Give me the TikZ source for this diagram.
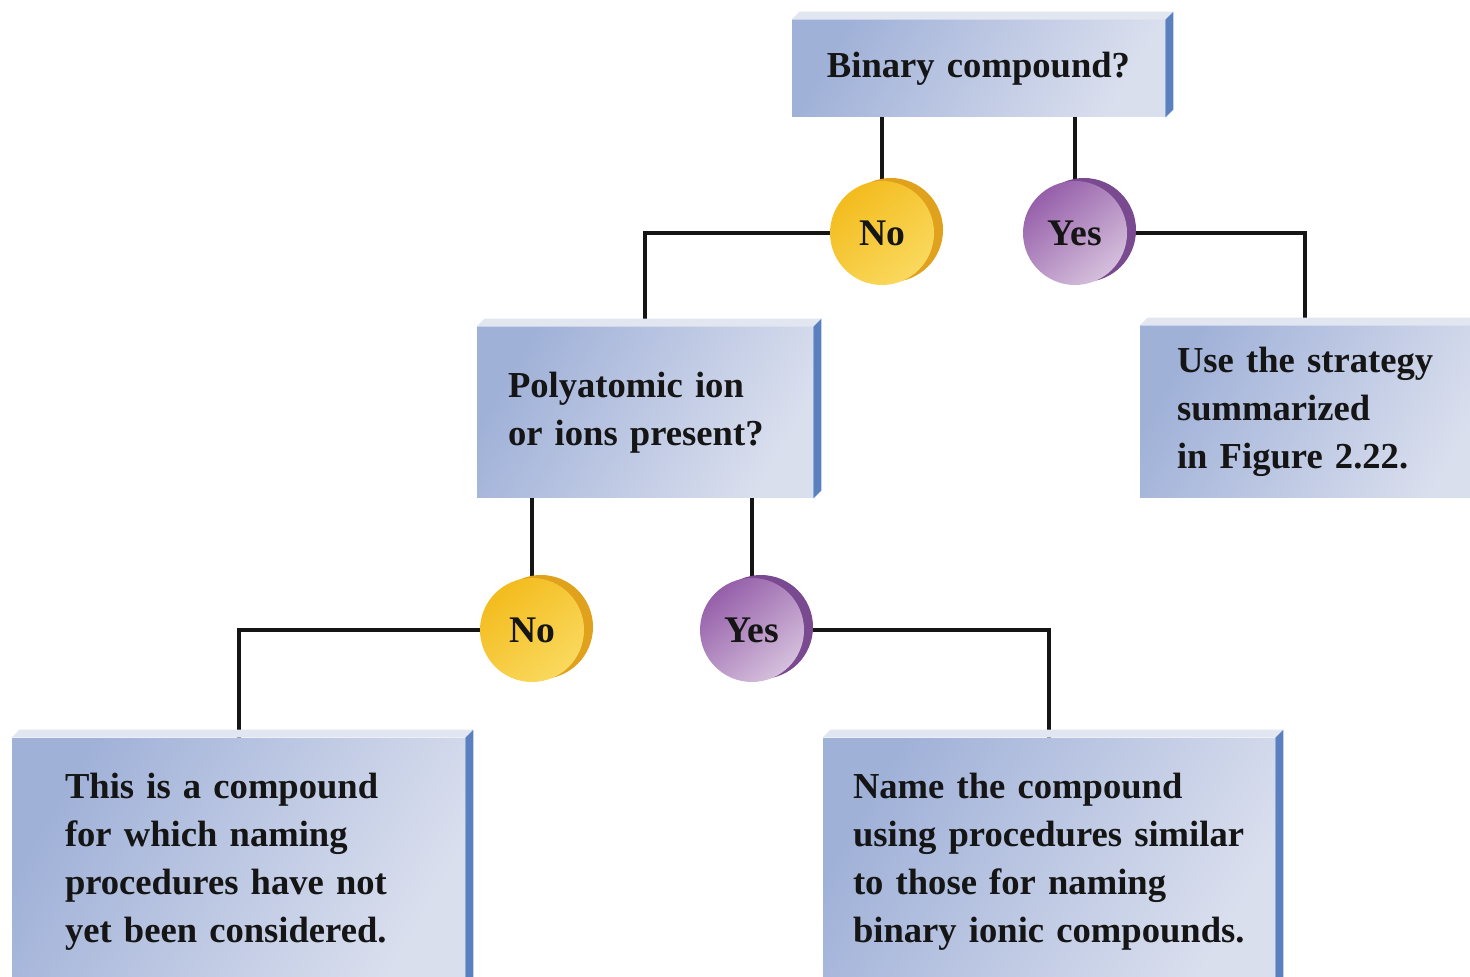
\documentclass[tikz,border=0pt]{standalone}
\usepackage{fontspec}
\setmainfont{Liberation Serif}
\definecolor{boxA}{HTML}{A0B1D8}
\definecolor{boxB}{HTML}{DADFEE}
\definecolor{boxTop}{HTML}{E2E6F1}
\definecolor{boxSide}{HTML}{5B80BF}
\definecolor{yelA}{HTML}{F3BC1E}
\definecolor{yelB}{HTML}{FAD95E}
\definecolor{yelSide}{HTML}{E0A21C}
\definecolor{purA}{HTML}{965FAA}
\definecolor{purB}{HTML}{D5C0DC}
\definecolor{purSide}{HTML}{7A4A90}
\definecolor{ink}{HTML}{151515}
\pgfdeclarelayer{lines}
\pgfdeclarelayer{sides}
\pgfsetlayers{lines,sides,main}
\tikzset{
  bx/.style={shade, top color=boxA, bottom color=boxB, shading angle=60,
    inner ysep=0pt, text=ink, font=\bfseries\fontsize{18.3}{24}\selectfont},
  disc/.style={circle, minimum size=52pt, inner sep=0pt, text=ink,
    font=\bfseries\fontsize{18.8}{24}\selectfont},
  yesdisc/.style={disc, shade, top color=purA, bottom color=purB, shading angle=40},
  nodisc/.style={disc, shade, top color=yelA, bottom color=yelB, shading angle=40},
  conn/.style={line width=2pt, ink},
}
\newcommand\boxbevel[1]{%
  \fill[boxTop] (#1.north west) -- ++(4pt,4pt) -- ([shift={(4pt,4pt)}]#1.north east) -- (#1.north east) -- cycle;
  \fill[boxSide] (#1.north east) -- ++(4pt,4pt) -- ([shift={(4pt,4pt)}]#1.south east) -- (#1.south east) -- cycle;}
\begin{document}
\begin{tikzpicture}[x=0.5pt,y=-0.5pt]
\useasboundingbox (0,0) rectangle (1470,977);
% boxes
\node[bx, inner xsep=0pt, text width=186.5pt, minimum height=48.5pt, align=center] (bin) at (978.5,68.5) {Binary compound?};
\node[bx, inner xsep=15.5pt, text width=137pt, minimum height=85.5pt, align=left] (poly) at (645,412.5) {Polyatomic ion\\or ions present?};
\node[bx, inner xsep=18.5pt, text width=138pt, minimum height=86pt, align=left] (use) at (1315,412) {Use the strategy\\summarized\\in Figure 2.22.};
\node[bx, inner xsep=26.5pt, text width=173.5pt, minimum height=123.5pt, align=left] (left) at (238.5,861.5) {This is a compound\\for which naming\\procedures have not\\yet been considered.};
\node[bx, inner xsep=15pt, text width=196pt, minimum height=123.5pt, align=left] (name) at (1049,861.5) {Name the compound\\using procedures similar\\to those for naming\\binary ionic compounds.};
\boxbevel{bin}
\boxbevel{poly}
\boxbevel{use}
\boxbevel{left}
\boxbevel{name}
% discs
\node[nodisc] (no1) at (882,233) {No};
\node[yesdisc] (yes1) at (1075,233) {Yes};
\node[nodisc] (no2) at (532,630) {No};
\node[yesdisc] (yes2) at (752,630) {Yes};
\begin{pgfonlayer}{sides}
  \fill[yelSide] ([shift={(4.5pt,1.5pt)}]no1.center) circle (26pt);
  \fill[purSide] ([shift={(4.5pt,1.5pt)}]yes1.center) circle (26pt);
  \fill[yelSide] ([shift={(4.5pt,1.5pt)}]no2.center) circle (26pt);
  \fill[purSide] ([shift={(4.5pt,1.5pt)}]yes2.center) circle (26pt);
\end{pgfonlayer}
\begin{pgfonlayer}{lines}
  \draw[conn] (no1.center) -- (no1 |- bin.south);
  \draw[conn] (yes1.center) -- (yes1 |- bin.south);
  \draw[conn] (no1.center) -| (poly.north);
  \draw[conn] (yes1.center) -| ([xshift=-5pt]use.north);
  \draw[conn] (no2.center) -- (no2 |- poly.south);
  \draw[conn] (yes2.center) -- (yes2 |- poly.south);
  \draw[conn] (no2.center) -| (left.north);
  \draw[conn] (yes2.center) -| (name.north);
\end{pgfonlayer}
\end{tikzpicture}
\end{document}
